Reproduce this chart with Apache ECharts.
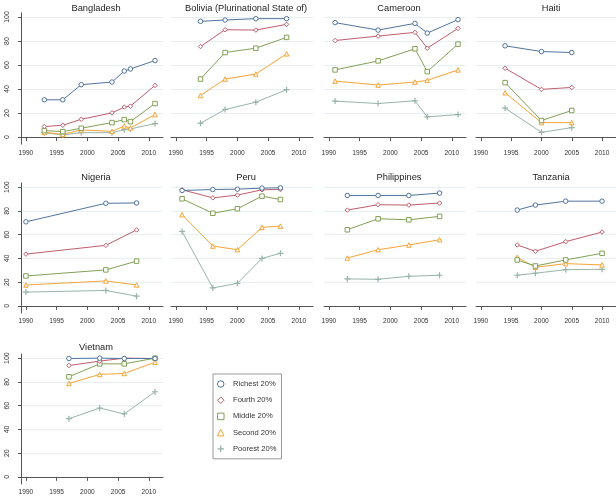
<!DOCTYPE html>
<html>
<head>
<meta charset="utf-8">
<script src="https://cdn.jsdelivr.net/npm/echarts@6/dist/echarts.min.js"></script>
<style>
html,body{margin:0;padding:0;background:#fff;}
#chart{width:616px;height:498px;}
</style>
</head>
<body>
<div id="chart"></div>
<script>
// ---- data ----
const countries = ['Bangladesh', 'Bolivia (Plurinational State of)', 'Cameroon', 'Haiti',
                   'Nigeria', 'Peru', 'Philippines', 'Tanzania', 'Vietnam'];
const groups = ['Richest 20%', 'Fourth 20%', 'Middle 20%', 'Second 20%', 'Poorest 20%'];
const xTicks = [1990, 1995, 2000, 2005, 2010];
const yTicks = [0, 20, 40, 60, 80, 100];

// values per country: rows in order Richest, Fourth, Middle, Second, Poorest
const bangladeshYears = [1993, 1996, 1999, 2004, 2006, 2007, 2011];
const bangladeshValues = [
  [31, 31, 43.6, 45.8, 55, 56.7, 63.7],
  [8.7, 9.8, 14.8, 20.1, 24.9, 25.7, 43],
  [5.3, 4.5, 7.3, 12.0, 14.5, 12.8, 27.9],
  [3.9, 2.2, 5.9, 4.7, 9.2, 7.5, 18.7],
  [3.6, 1.7, 3.6, 3.6, 6.1, 6.7, 11.2]
];
const boliviaYears = [1994, 1998, 2003, 2008];
const boliviaValues = [
  [96.4, 97.5, 98.6, 98.6],
  [75.4, 89.4, 89.1, 93.9],
  [48.3, 70.4, 74, 83],
  [34.6, 48.3, 52.5, 69.3],
  [11.5, 22.9, 29, 39.4]
];
const cameroonYears = [1991, 1998, 2004, 2006, 2011];
const cameroonValues = [
  [95.3, 89.1, 94.7, 86.6, 97.8],
  [80.4, 84.1, 87.2, 74, 90.5],
  [55.9, 63.4, 73.5, 54.5, 77.4],
  [46.6, 43.3, 45.8, 47.2, 55.9],
  [29.9, 27.9, 30.2, 16.8, 18.7]
];
const haitiYears = [1994, 2000, 2005];
const haitiValues = [
  [76, 71.2, 70.4],
  [57.3, 39.7, 41.3],
  [45.3, 13.7, 22.1],
  [36.9, 12, 12],
  [24, 3.9, 7.8]
];
const nigeriaYears = [1990, 2003, 2008];
const nigeriaValues = [
  [70.8, 86.4, 86.7],
  [43.6, 51, 64],
  [25.2, 30.3, 37.7],
  [17.6, 21, 17.6],
  [11.6, 13, 8.2]
];
const peruYears = [1991, 1996, 2000, 2004, 2007];
const peruValues = [
  [97.2, 98, 98.3, 99.2, 99.4],
  [97.8, 91, 93.3, 97.8, 98],
  [90.2, 78, 81.8, 92.4, 89.6],
  [76.8, 50.4, 47.3, 66.1, 67.2],
  [62.7, 15.1, 19, 40, 44.3]
];
const philippinesYears = [1993, 1998, 2003, 2008];
const philippinesValues = [
  [93, 93, 93, 95],
  [80.7, 85.2, 84.9, 86.6],
  [64.1, 73.4, 72.5, 75.4],
  [40.3, 47.3, 51.3, 55.7],
  [22.7, 22.4, 24.9, 25.8]
];
const tanzaniaYears = [1996, 1999, 2004, 2010];
const tanzaniaValues = [
  [80.7, 84.9, 88.2, 88.2],
  [51.3, 46, 54.1, 62.2],
  [38.7, 33.6, 38.7, 44.3],
  [40.9, 32.5, 35.6, 34.5],
  [25.8, 27.5, 30.5, 30.8]
];
const vietnamYears = [1997, 2002, 2006, 2011];
const vietnamValues = [
  [99.7, 100, 99.7, 99.7],
  [93.8, 97.5, 100, 99.7],
  [84.3, 95.2, 95.2, 100],
  [78.7, 86.3, 87.1, 96.6],
  [49, 58, 53, 71.7]
];

const countryYears = [bangladeshYears, boliviaYears, cameroonYears, haitiYears,
  nigeriaYears, peruYears, philippinesYears, tanzaniaYears, vietnamYears];
const countryValues = [bangladeshValues, boliviaValues, cameroonValues, haitiValues,
  nigeriaValues, peruValues, philippinesValues, tanzaniaValues, vietnamValues];

// ---- styling ----
const colors = ['#52749f', '#bf5d6d', '#82a157', '#f7a437', '#98b4a8'];
const plusPath = 'path://M4,0h2v4h4v2h-4v4h-2v-4h-4v-2h4z';
const symbols = ['circle', 'diamond', 'rect', 'triangle', plusPath];
const FONT = "'Liberation Sans', Arial, sans-serif";

const colLeft = [21, 171, 324, 476];
const rowTop = [12.8, 183, 354];
const rowBottom = [144.2, 313, 484];
const plotW = 142;
const titleTop = [-1, 168, 338];

function markerStyle(g) {
  return g === 4 ? { color: colors[g], borderColor: colors[g], borderWidth: 0 }
                 : { color: '#fff', borderColor: colors[g], borderWidth: 1 };
}

const grids = [], xAxes = [], yAxes = [], series = [], titles = [];
countries.forEach(function (name, i) {
  const r = Math.floor(i / 4), c = i % 4;
  grids.push({
    left: colLeft[c], top: rowTop[r], width: plotW,
    height: rowBottom[r] - rowTop[r], containLabel: false
  });
  titles.push({
    text: name, left: colLeft[c] + plotW / 2 - 1, top: titleTop[r], textAlign: 'center',
    textStyle: { fontFamily: FONT, fontSize: 9.3, fontWeight: 'normal', color: '#222' }
  });
  xAxes.push({
    type: 'value', gridIndex: i, min: 1989.2, max: 2012.3,
    axisLine: { show: true, lineStyle: { color: '#555', width: 1 } },
    axisTick: { show: true, length: 4, customValues: xTicks, lineStyle: { color: '#555' } },
    axisLabel: { show: true, customValues: xTicks, margin: 5, fontFamily: FONT, fontSize: 6.6, color: '#333',
      formatter: function (v) { return String(v); } },
    splitLine: { show: false }
  });
  const first = (c === 0);
  yAxes.push({
    type: 'value', gridIndex: i, min: -6, max: 103.5,
    axisLine: { show: first, lineStyle: { color: '#555', width: 1 } },
    axisTick: { show: first, length: 3, customValues: yTicks, lineStyle: { color: '#555' } },
    axisLabel: { show: first, customValues: yTicks, rotate: 90, margin: 10, fontFamily: FONT, fontSize: 7, color: '#333' },
    splitLine: { show: true, lineStyle: { color: '#e6f0f2', width: 1 } }
  });
  const yrs = countryYears[i];
  countryValues[i].forEach(function (vals, g) {
    series.push({
      type: 'line', name: groups[g], xAxisIndex: i, yAxisIndex: i,
      data: yrs.map(function (y, k) { return [y, vals[k]]; }),
      symbol: symbols[g], symbolSize: g === 4 ? 6 : 4.5,
      showSymbol: true, animation: false, silent: true,
      lineStyle: { color: colors[g], width: 1 },
      itemStyle: markerStyle(g),
      z: 10 - g
    });
  });
});

const chart = echarts.init(document.getElementById('chart'), null, { renderer: 'canvas' });
chart.setOption({
  animation: false,
  backgroundColor: '#fff',
  title: titles,
  grid: grids,
  xAxis: xAxes,
  yAxis: yAxes,
  legend: {
    data: groups.map(function (g, k) {
      return { name: g, icon: symbols[k], itemStyle: markerStyle(k) };
    }),
    orient: 'vertical', left: 213, top: 374,
    itemWidth: 6.5, itemHeight: 6.5,
    padding: [6, 5, 6, 4],
    itemGap: 8.2,
    borderColor: '#999', borderWidth: 1,
    textStyle: { fontFamily: FONT, fontSize: 7.6, color: '#333', padding: [0, 0, 0, 4] }
  },
  series: series
});
</script>
</body>
</html>
